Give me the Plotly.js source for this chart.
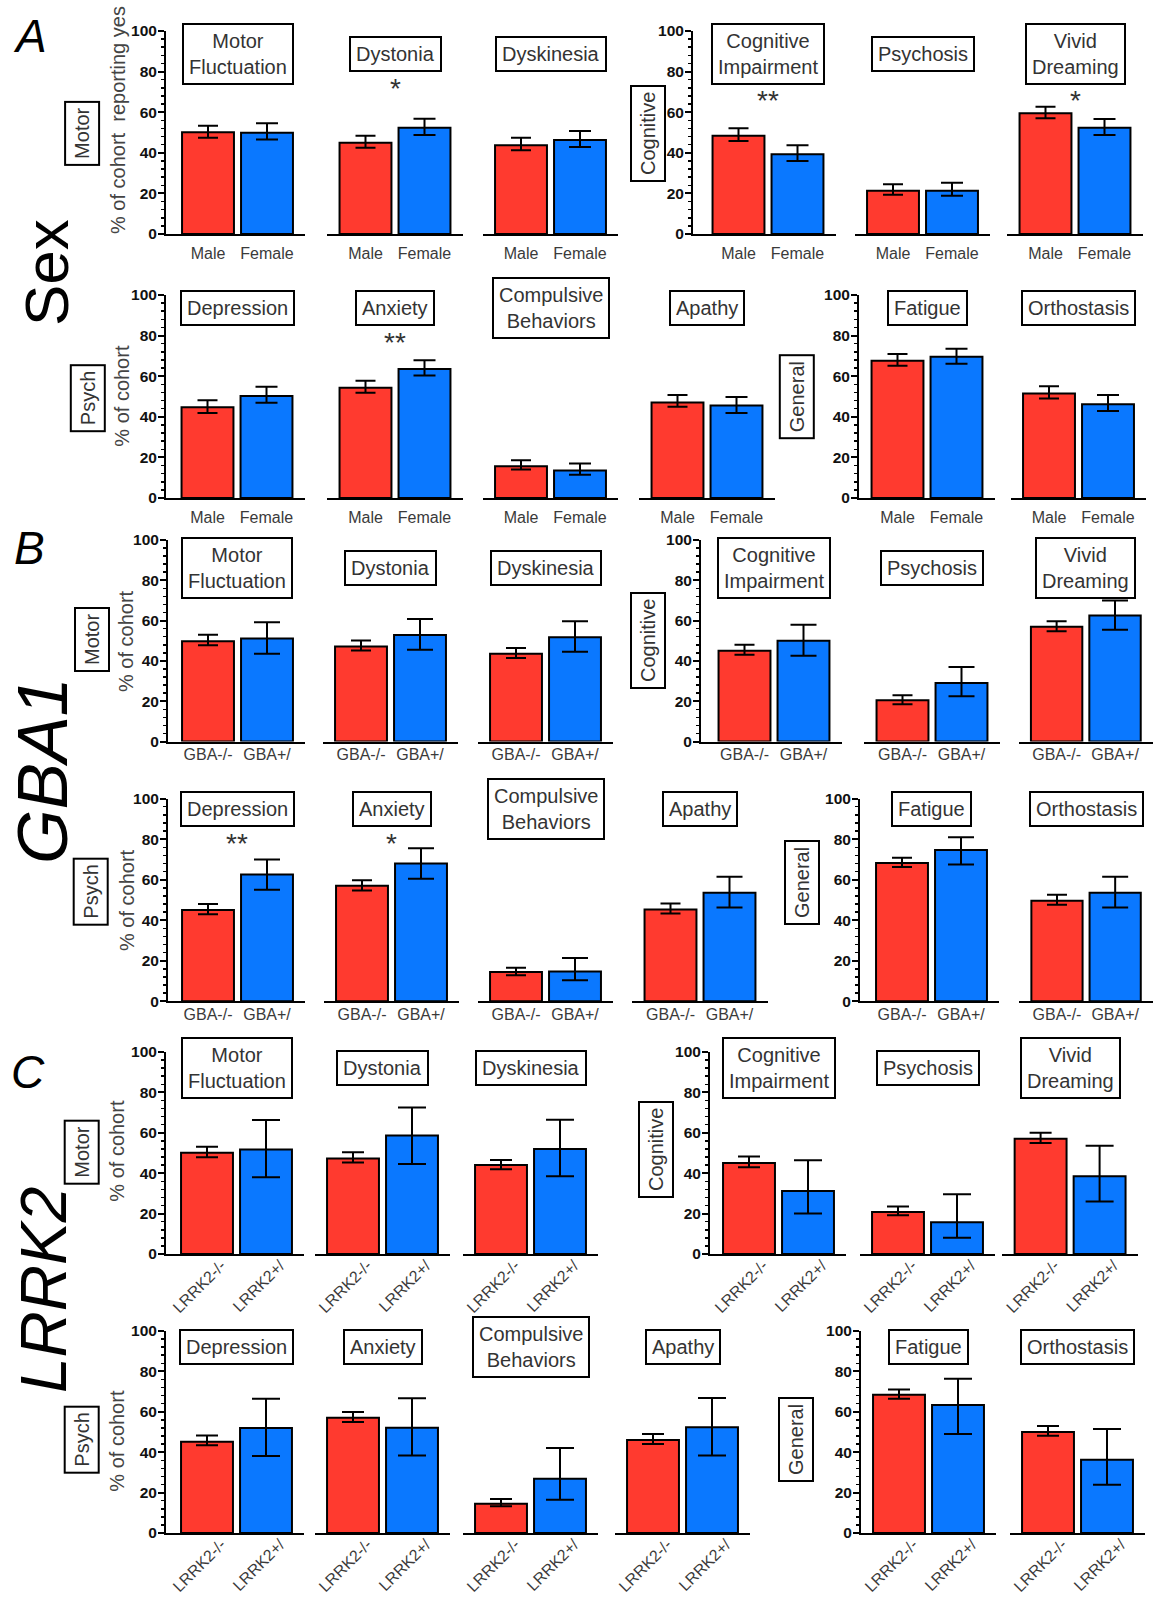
<!DOCTYPE html>
<html>
<head>
<meta charset="utf-8">
<script src="https://cdn.plot.ly/plotly-3.0.1.min.js"></script>
<style>html,body{margin:0;padding:0;background:#fff;}</style>
</head>
<body>
<div id="chart" style="width:1153px;height:1597px;"></div>
<script>
// ---------------- DATA ----------------
const symptomNames = ['Motor<br>Fluctuation','Dystonia','Dyskinesia','Cognitive<br>Impairment','Psychosis','Vivid<br>Dreaming',
                      'Depression','Anxiety','Compulsive<br>Behaviors','Apathy','Fatigue','Orthostasis'];
const domainLabelsRow1 = ['Motor','Cognitive'];
const domainLabelsRow2 = ['Psych','General'];

const sexGroups = ['Male','Female'];
const maleValue  = [50.1, 45.0, 43.7, 48.4, 21.3, 59.5, 44.7, 54.3, 15.6, 47.1, 67.6, 51.5];
const maleUpper  = [53.3, 48.4, 47.4, 52.1, 24.5, 62.7, 48.2, 57.7, 18.6, 50.7, 70.9, 55.0];
const maleLower  = [47.4, 42.5, 41.2, 45.8, 19.3, 57.0, 41.9, 51.8, 14.0, 44.9, 65.1, 49.0];
const femaleValue = [49.9, 52.4, 46.3, 39.3, 21.3, 52.4, 50.2, 63.6, 13.5, 45.6, 69.6, 46.2];
const femaleUpper = [54.5, 56.8, 50.7, 43.7, 25.3, 56.7, 54.8, 67.9, 17.0, 49.8, 73.5, 50.7];
const femaleLower = [46.6, 48.8, 42.9, 36.0, 18.9, 48.8, 46.9, 60.4, 11.5, 41.9, 66.1, 42.8];
const sexSignificance = ['','*','','**','','*','','**','','','',''];

const gbaGroups = ['GBA-/-','GBA+/'];
const gbaNegValue = [49.8, 47.1, 43.5, 45.0, 20.5, 57.0, 45.0, 57.0, 14.5, 45.3, 68.2, 49.6];
const gbaNegUpper = [53.0, 50.1, 46.4, 48.0, 23.0, 59.7, 48.0, 59.7, 16.5, 48.3, 70.8, 52.6];
const gbaNegLower = [47.8, 45.1, 41.5, 43.0, 18.5, 54.7, 43.0, 54.7, 12.8, 43.3, 66.2, 47.6];
const gbaPosValue = [51.1, 52.9, 51.7, 50.0, 29.0, 62.5, 62.5, 68.0, 14.7, 53.5, 74.6, 53.5];
const gbaPosUpper = [59.2, 60.8, 59.7, 58.0, 37.0, 70.0, 70.0, 75.5, 21.4, 61.4, 80.9, 61.4];
const gbaPosLower = [43.5, 45.5, 44.5, 42.5, 22.5, 55.5, 55.0, 60.5, 10.4, 46.3, 67.5, 46.3];
const gbaSignificance = ['','','','','','','**','*','','','',''];

const lrrkGroups = ['LRRK2-/-','LRRK2+/'];
const lrrkNegValue = [50.1, 47.3, 44.0, 45.0, 20.8, 57.0, 45.2, 57.1, 14.5, 46.0, 68.5, 50.0];
const lrrkNegUpper = [53.1, 50.4, 46.5, 48.3, 23.5, 60.0, 48.3, 59.9, 16.8, 49.0, 71.1, 53.0];
const lrrkNegLower = [47.9, 45.3, 42.0, 43.0, 19.2, 55.0, 43.4, 55.0, 13.2, 44.0, 66.5, 48.2];
const lrrkPosValue = [51.7, 58.7, 52.0, 31.2, 15.7, 38.5, 52.0, 52.1, 26.9, 52.3, 63.4, 36.3];
const lrrkPosUpper = [66.3, 72.5, 66.5, 46.4, 29.6, 53.6, 66.5, 66.7, 42.1, 66.8, 76.4, 51.5];
const lrrkPosLower = [38.0, 44.5, 38.5, 20.0, 8.1, 26.0, 38.1, 38.4, 16.5, 38.4, 49.0, 23.9];
const lrrkSignificance = ['','','','','','','','','','','',''];

const sectionLetters = ['A','B','C'];
const sectionNames = ['Sex','<i>GBA1</i>','<i>LRRK2</i>'];

// ---------------- STYLE / LAYOUT CONSTANTS ----------------
const W = 1153, H = 1597;
const S = 59;          // px per category unit
const BW = 0.88;       // bar width (category units)
const RED = '#FF3A2F', BLUE = '#0A78FF';
const FONT = 'Arial, "Liberation Sans", Helvetica, sans-serif';
const TXT = '#333333';

const sections = [
  {groups: sexGroups, a:[maleValue, maleUpper, maleLower], b:[femaleValue, femaleUpper, femaleLower], sig: sexSignificance, capA:10, capB:11, angle:0, standoff:4, shift:0},
  {groups: gbaGroups, a:[gbaNegValue, gbaNegUpper, gbaNegLower], b:[gbaPosValue, gbaPosUpper, gbaPosLower], sig: gbaSignificance, capA:10, capB:13, angle:0, standoff:-3, shift:0},
  {groups: lrrkGroups, a:[lrrkNegValue, lrrkNegUpper, lrrkNegLower], b:[lrrkPosValue, lrrkPosUpper, lrrkPosLower], sig: lrrkSignificance, capA:11, capB:14, angle:-45, standoff:-6, shift:14}
];

const rowLayout = [
  {sec:0, part:0, y100:31,    y0:234,    centers:[208,365.5,521,738.5,893,1045.5], axes:[166,693], split:3, boxVal:88.7,
   groupPos:[[82.5,133.4],[648,134]], yTitle:['% of cohort\u00A0 reporting yes',118,120]},
  {sec:0, part:1, y100:295,   y0:498,    centers:[207.5,365.5,521,677.5,897.5,1049], axes:[166,859], split:4, boxVal:93.4,
   groupPos:[[87.5,398.7],[796.5,396.7]], yTitle:['% of cohort',121.7,396]},
  {sec:1, part:0, y100:540,   y0:741.5,  centers:[208,361,516,744.5,902.5,1057], axes:[168,701], split:3, boxVal:86.3,
   groupPos:[[92,640],[648,641]], yTitle:['% of cohort',126,641]},
  {sec:1, part:1, y100:798.6, y0:1001.3, centers:[208,362,516,670.5,902,1057.5], axes:[168,860], split:4, boxVal:95,
   groupPos:[[90.7,892],[802,883]], yTitle:['% of cohort',127,900]},
  {sec:2, part:0, y100:1052,  y0:1254,   centers:[207,353,501,749,898,1040.6], axes:[166,710], split:3, boxVal:92,
   groupPos:[[81.7,1152],[656,1150]], yTitle:['% of cohort',116.7,1151]},
  {sec:2, part:1, y100:1331,  y0:1533,   centers:[207,353,501,653,899,1048], axes:[166,861], split:4, boxVal:92.2,
   groupPos:[[81.7,1440],[796,1440]], yTitle:['% of cohort',116.7,1441]}
];

const sectionLabelPos = [[30,36],[29,548],[28,1072]];
const sectionNamePos = [[46,273],[43,771],[44,1290]];
const sectionNameSize = [62,70,64];

// ---------------- BUILD ----------------
const data = [];
const layout = {
  width: W, height: H, autosize: false,
  margin: {l:0, r:0, t:0, b:0, pad:0},
  paper_bgcolor: '#fff', plot_bgcolor: 'rgba(0,0,0,0)',
  barmode: 'overlay', showlegend: false,
  font: {family: FONT, color: TXT},
  annotations: []
};
const px2x = p => p / W;
const px2y = p => 1 - p / H;

rowLayout.forEach((row, r) => {
  const sec = sections[row.sec];
  const ppu = (row.y0 - row.y100) / 100;
  for (let i = 0; i < 6; i++) {
    const k = row.part * 6 + i;
    const n = r * 6 + i + 1;
    const suf = n === 1 ? '' : String(n);
    const c = row.centers[i];
    const first = (i === 0 || i === row.split);
    const left = first ? row.axes[i === 0 ? 0 : 1] : c - 0.65 * S;
    const right = c + 1.65 * S;

    layout['xaxis' + suf] = {
      domain: [px2x(left), px2x(right)], anchor: 'y' + suf,
      type: 'category', categoryorder: 'array', categoryarray: sec.groups,
      range: [(left - c) / S, (right - c) / S],
      showline: true, linecolor: '#000', linewidth: 2, mirror: false,
      ticks: '', showgrid: false, zeroline: false, fixedrange: true,
      tickangle: sec.angle, ticklabelstandoff: sec.standoff, ticklabelshift: sec.shift,
      tickfont: {family: FONT, size: 16, color: '#3a3a3a'}
    };
    layout['yaxis' + suf] = {
      domain: [px2y(row.y0), px2y(row.y100)], anchor: 'x' + suf,
      range: [0, 100], visible: first, fixedrange: true,
      showline: true, linecolor: '#000', linewidth: 2,
      ticks: 'outside', ticklen: 6, tickwidth: 2, tickcolor: '#000',
      ticklabelstandoff: -2,
      tick0: 0, dtick: 20, showgrid: false, zeroline: false,
      minor: {dtick: 4, ticks: 'outside', ticklen: 3.5, tickwidth: 1.5, tickcolor: '#000', showgrid: false},
      tickfont: {family: FONT, size: 15.5, color: '#111', weight: 700}
    };

    const mk = (grp, vals, color, cap) => ({
      type: 'bar', x: [grp], y: [vals[0][k]], width: [BW],
      xaxis: 'x' + suf, yaxis: 'y' + suf,
      marker: {color: color, line: {color: '#000', width: 2}},
      error_y: {type: 'data', symmetric: false,
                array: [vals[1][k] - vals[0][k]], arrayminus: [vals[0][k] - vals[2][k]],
                color: '#000', thickness: 2, width: cap},
      hoverinfo: 'skip', showlegend: false
    });
    data.push(mk(sec.groups[0], sec.a, RED, sec.capA));
    data.push(mk(sec.groups[1], sec.b, BLUE, sec.capB));

    // symptom title box
    const twoLine = symptomNames[k].indexOf('<br>') >= 0;
    layout.annotations.push({
      text: symptomNames[k], xref: 'x' + suf, yref: 'y' + suf, x: 0.5, y: row.boxVal,
      showarrow: false, font: {family: FONT, size: 20, color: TXT},
      bordercolor: '#000', borderwidth: 2, borderpad: 5, bgcolor: '#fff',
      xanchor: 'center', yanchor: 'middle'
    });
    // significance stars
    if (sec.sig[k]) {
      const boxCenterPx = row.y0 - row.boxVal * ppu;
      const starPx = boxCenterPx + (twoLine ? 31 : 18.5) + 16;
      layout.annotations.push({
        text: sec.sig[k], xref: 'x' + suf, yref: 'paper', x: 0.5, y: px2y(starPx),
        showarrow: false, font: {family: FONT, size: 28, color: TXT},
        xanchor: 'center', yanchor: 'middle'
      });
    }
  }
  // domain group labels
  const labels = row.part === 0 ? domainLabelsRow1 : domainLabelsRow2;
  labels.forEach((t, j) => {
    layout.annotations.push({
      text: t, xref: 'paper', yref: 'paper', x: px2x(row.groupPos[j][0]), y: px2y(row.groupPos[j][1]),
      textangle: -90, showarrow: false, font: {family: FONT, size: 20, color: TXT},
      bordercolor: '#000', borderwidth: 2, borderpad: 5, bgcolor: '#fff',
      xanchor: 'center', yanchor: 'middle'
    });
  });
  // y axis title
  layout.annotations.push({
    text: row.yTitle[0], xref: 'paper', yref: 'paper', x: px2x(row.yTitle[1]), y: px2y(row.yTitle[2]),
    textangle: -90, showarrow: false, font: {family: FONT, size: 20, color: '#444'},
    xanchor: 'center', yanchor: 'middle'
  });
});

sectionLetters.forEach((t, s) => {
  layout.annotations.push({
    text: '<i>' + t + '</i>', xref: 'paper', yref: 'paper',
    x: px2x(sectionLabelPos[s][0]), y: px2y(sectionLabelPos[s][1]),
    showarrow: false, font: {family: FONT, size: 46, color: '#000'},
    xanchor: 'center', yanchor: 'middle'
  });
  layout.annotations.push({
    text: sectionNames[s], xref: 'paper', yref: 'paper',
    x: px2x(sectionNamePos[s][0]), y: px2y(sectionNamePos[s][1]),
    textangle: -90, showarrow: false, font: {family: FONT, size: sectionNameSize[s], color: '#000'},
    xanchor: 'center', yanchor: 'middle'
  });
});

Plotly.newPlot('chart', data, layout, {staticPlot: true, displayModeBar: false});
</script>
</body>
</html>
